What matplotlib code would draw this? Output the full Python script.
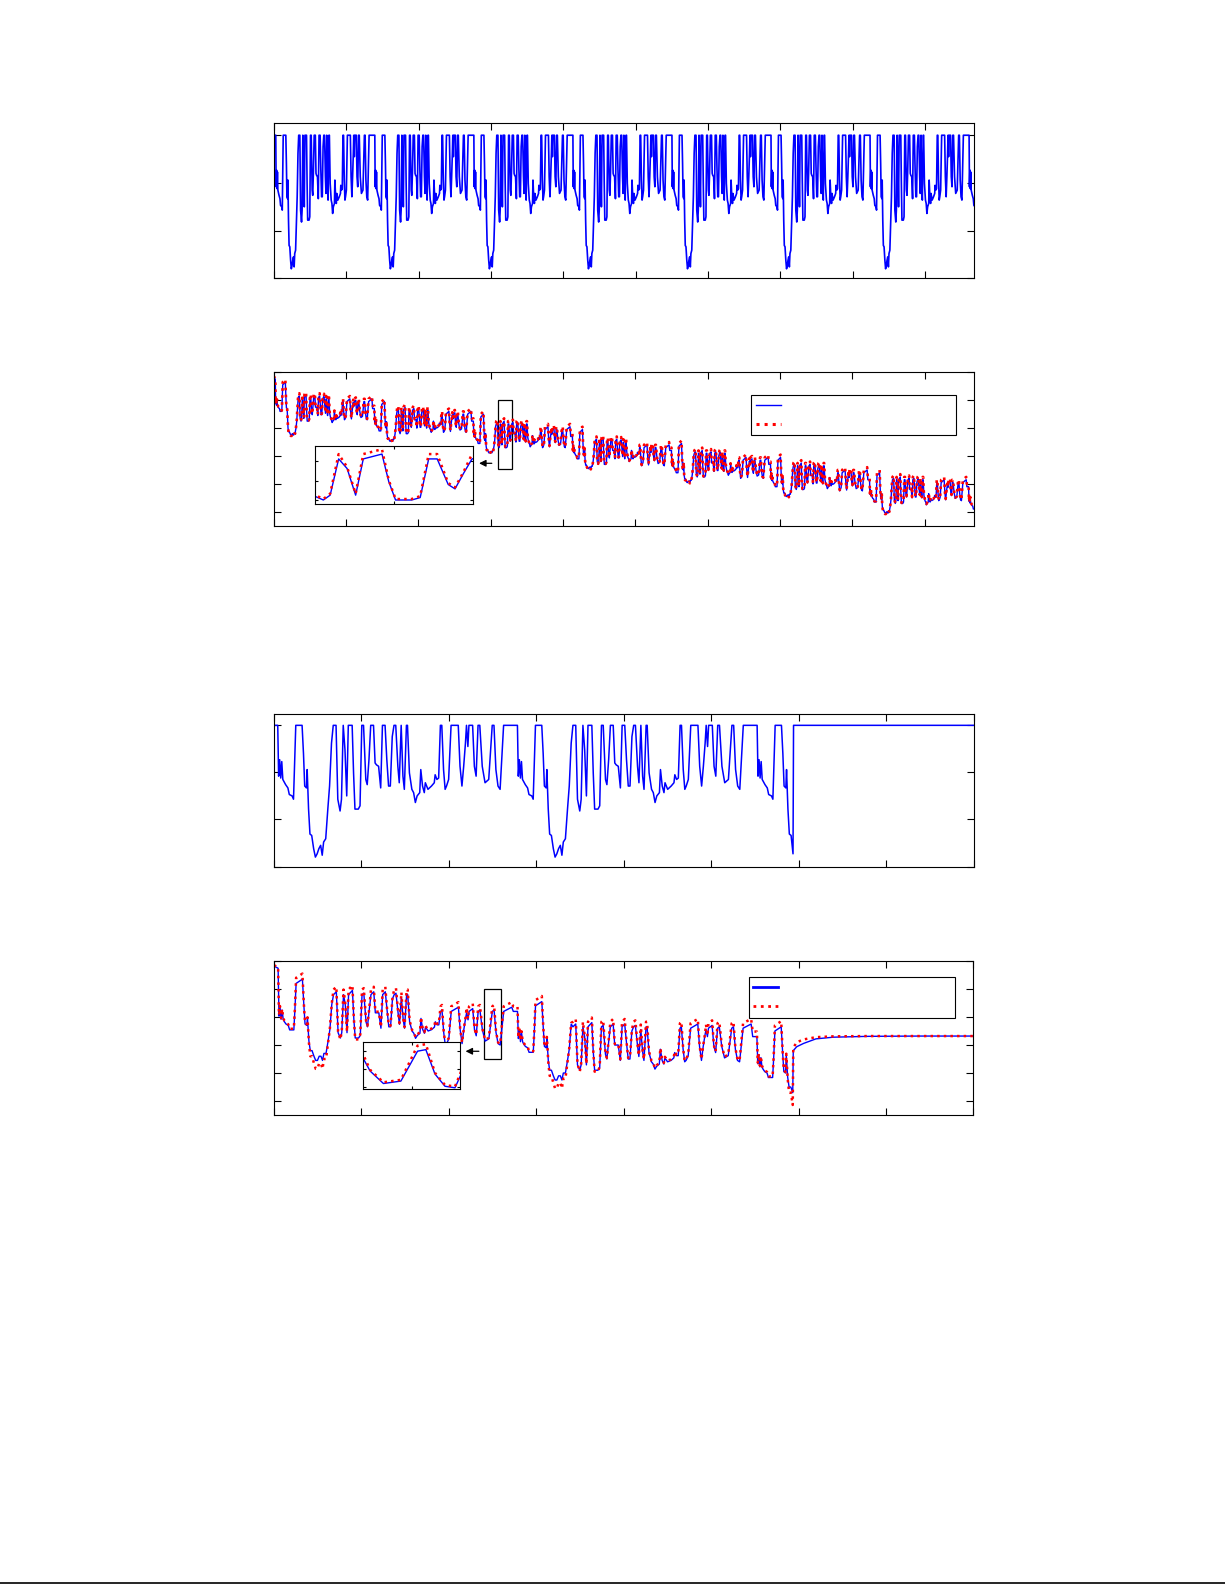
import numpy as np
import matplotlib
matplotlib.use('Agg')
import matplotlib.pyplot as plt
from matplotlib.lines import Line2D
from matplotlib.patches import Rectangle

CYCLE = 1369  # one UDDS cycle, s

udds_t = [0, 24, 29, 35, 41, 47, 53, 59, 69, 82,
          90, 106, 114, 120, 127, 163, 171, 178, 188, 192,
          200, 208, 218, 229, 239, 249, 259, 269, 278, 286,
          298, 310, 320, 331, 341, 357, 367, 380, 388, 398,
          408, 418, 427, 449, 457, 465, 484, 494, 504, 514,
          527, 535, 545, 555, 571, 580, 588, 600, 612, 622,
          637, 647, 657, 667, 678, 688, 698, 710, 718, 729,
          739, 747, 759, 765, 776, 790, 800, 810, 820, 835,
          841, 851, 861, 867, 882, 902, 918, 923, 933, 943,
          953, 961, 971, 980, 988, 1000, 1014, 1055, 1065, 1076,
          1086, 1096, 1102, 1110, 1116, 1137, 1147, 1157, 1168, 1178,
          1192, 1208, 1229, 1249, 1259, 1270, 1282, 1294, 1314, 1360]
udds_i = [0, 0, -1.08, -0.73, -1.12, -0.77, -1.15, -1.19, -1.26, -1.33,
          -1.47, -1.50, -1.57, -0.87, 0, 0, -0.60, -1.29, -1.33, -0.94,
          -1.78, -2.31, -2.34, -2.62, -2.80, -2.73, -2.62, -2.55, -2.76, -2.48,
          -2.41, -1.78, -1.29, -0.38, 0, 0, -1.57, -1.82, -1.57, 0,
          -0.52, -1.50, 0, 0, -1.01, -1.78, -1.78, -1.71, 0, 0,
          -1.15, -1.26, -0.73, 0, 0, -0.80, -0.84, -0.87, -1.33, 0,
          0, -0.73, -1.29, -1.29, -0.24, 0, 0, -0.87, -1.22, 0,
          -1.08, -1.36, 0, 0, -1.01, -1.36, -1.43, -1.64, -1.50, -1.43,
          -0.94, -1.29, -1.43, -1.22, -1.36, -1.29, -1.22, -1.05, -1.15, -1.12,
          0, 0, -0.94, -1.36, -1.29, -1.15, 0, 0, -0.87, -1.29,
          -0.87, -0.38, 0, -0.45, 0, 0, -0.87, -1.08, 0, 0,
          -0.87, -1.22, -1.15, 0, 0, -0.94, -1.29, -1.36, 0, 0]

# voltage swing around the running level, panel 2 (measured / model)
v2_dev_meas = [0.07, 0.07, 0.018, 0.035, 0.012, 0.03, 0.012, 0.008, 0.003, 0.0,
               -0.01, -0.01, -0.01, 0.03, 0.085, 0.095, 0.04, 0.003, 0.0, 0.025,
               -0.02, -0.033, -0.033, -0.04, -0.045, -0.045, -0.04, -0.04, -0.045, -0.037,
               -0.037, -0.02, 0.003, 0.05, 0.065, 0.07, -0.01, -0.02, -0.01, 0.065,
               0.045, -0.01, 0.065, 0.075, 0.018, -0.02, -0.02, -0.015, 0.065, 0.065,
               0.012, 0.003, 0.035, 0.065, 0.07, 0.03, 0.03, 0.03, 0.0, 0.065,
               0.07, 0.035, 0.003, 0.003, 0.055, 0.065, 0.068, 0.03, 0.008, 0.06,
               0.018, 0.0, 0.065, 0.065, 0.018, 0.0, -0.005, -0.015, -0.01, -0.005,
               0.025, 0.003, -0.005, 0.008, 0.0, 0.003, 0.008, 0.018, 0.012, 0.012,
               0.065, 0.065, 0.025, 0.0, 0.003, 0.012, 0.065, 0.075, 0.03, 0.003,
               0.03, 0.05, 0.062, 0.048, 0.065, 0.07, 0.03, 0.018, 0.065, 0.065,
               0.03, 0.008, 0.012, 0.065, 0.065, 0.025, 0.003, 0.0, 0.065, 0.075]
v2_dev_model = [0.08, 0.08, 0.021, 0.038, 0.015, 0.033, 0.015, 0.011, 0.006, 0.003,
                -0.007, -0.007, -0.007, 0.033, 0.095, 0.105, 0.043, 0.006, 0.003, 0.028,
                -0.018, -0.035, -0.035, -0.043, -0.048, -0.048, -0.043, -0.043, -0.048, -0.04,
                -0.04, -0.018, 0.006, 0.053, 0.075, 0.08, -0.007, -0.018, -0.007, 0.075,
                0.048, -0.007, 0.075, 0.085, 0.021, -0.018, -0.018, -0.012, 0.075, 0.075,
                0.015, 0.006, 0.038, 0.075, 0.08, 0.033, 0.033, 0.033, 0.003, 0.075,
                0.08, 0.038, 0.006, 0.006, 0.058, 0.075, 0.078, 0.033, 0.011, 0.07,
                0.021, 0.003, 0.075, 0.075, 0.021, 0.003, -0.002, -0.012, -0.007, -0.002,
                0.028, 0.006, -0.002, 0.011, 0.003, 0.006, 0.011, 0.021, 0.015, 0.015,
                0.075, 0.075, 0.028, 0.003, 0.006, 0.015, 0.075, 0.085, 0.033, 0.006,
                0.033, 0.053, 0.072, 0.051, 0.075, 0.08, 0.033, 0.021, 0.075, 0.075,
                0.033, 0.011, 0.015, 0.075, 0.075, 0.028, 0.006, 0.003, 0.075, 0.085]

# same for panel 4
v4_dev_meas = [0.13, 0.13, 0.033, 0.065, 0.022, 0.055, 0.022, 0.014, 0.005, 0.0,
               -0.016, -0.016, -0.016, 0.055, 0.15, 0.165, 0.075, 0.005, 0.0, 0.045,
               -0.035, -0.07, -0.07, -0.09, -0.105, -0.105, -0.09, -0.09, -0.105, -0.08,
               -0.08, -0.035, 0.005, 0.095, 0.12, 0.13, -0.016, -0.035, -0.016, 0.12,
               0.085, -0.016, 0.12, 0.135, 0.033, -0.035, -0.035, -0.026, 0.12, 0.125,
               0.022, 0.005, 0.065, 0.12, 0.13, 0.055, 0.055, 0.055, 0.0, 0.12,
               0.13, 0.065, 0.005, 0.005, 0.105, 0.12, 0.125, 0.055, 0.014, 0.11,
               0.033, 0.0, 0.12, 0.12, 0.033, 0.0, -0.008, -0.026, -0.016, -0.008,
               0.045, 0.005, -0.008, 0.014, 0.0, 0.005, 0.014, 0.033, 0.022, 0.022,
               0.12, 0.125, 0.045, 0.0, 0.005, 0.022, 0.12, 0.135, 0.055, 0.005,
               0.055, 0.095, 0.115, 0.09, 0.12, 0.13, 0.055, 0.033, 0.12, 0.125,
               0.055, 0.014, 0.022, 0.12, 0.125, 0.045, 0.005, 0.0, 0.12, 0.135]
v4_dev_model = [0.148, 0.148, 0.037, 0.069, 0.026, 0.059, 0.026, 0.018, 0.009, 0.004,
                -0.012, -0.012, -0.012, 0.059, 0.17, 0.185, 0.079, 0.009, 0.004, 0.049,
                -0.04, -0.09, -0.09, -0.115, -0.135, -0.135, -0.115, -0.115, -0.135, -0.1,
                -0.1, -0.04, 0.009, 0.099, 0.138, 0.148, -0.012, -0.04, -0.012, 0.138,
                0.089, -0.012, 0.138, 0.153, 0.037, -0.04, -0.04, -0.022, 0.138, 0.143,
                0.026, 0.009, 0.069, 0.138, 0.148, 0.059, 0.059, 0.059, 0.004, 0.138,
                0.148, 0.069, 0.009, 0.009, 0.109, 0.138, 0.143, 0.059, 0.018, 0.128,
                0.037, 0.004, 0.138, 0.138, 0.037, 0.004, -0.004, -0.022, -0.012, -0.004,
                0.049, 0.009, -0.004, 0.018, 0.004, 0.009, 0.018, 0.037, 0.026, 0.026,
                0.138, 0.143, 0.049, 0.004, 0.009, 0.026, 0.138, 0.153, 0.059, 0.009,
                0.059, 0.099, 0.133, 0.094, 0.138, 0.148, 0.059, 0.037, 0.138, 0.143,
                0.059, 0.018, 0.026, 0.138, 0.143, 0.049, 0.009, 0.004, 0.138, 0.153]

# cycle phases: start, big hill, first stop-go, quiet cruise, second stop-go
seg_edges = [190, 341, 770, 950]

# running voltage level for each cycle and phase
v2_pre = [3.87, 3.80, 3.755, 3.70, 3.65, 3.60, 3.545, 3.52]
v2_dip = [3.82, 3.798, 3.756, 3.70, 3.65, 3.60, 3.54, 3.52]
v2_comb_a = [3.845, 3.80, 3.75, 3.69, 3.645, 3.60, 3.55, 3.52]
v2_quiet = [3.835, 3.80, 3.748, 3.695, 3.646, 3.598, 3.54, 3.52]
v2_comb_b = [3.83, 3.785, 3.73, 3.665, 3.62, 3.575, 3.54, 3.52]
v2_rest_meas = [3.985, 3.975]
v2_rest_model = [3.987, 3.978]

v4_pre = [3.77, 3.69, 3.60]
v4_dip = [3.75, 3.68, 3.62]
v4_comb_a = [3.76, 3.645, 3.60]
v4_quiet = [3.75, 3.64, 3.60]
v4_comb_b = [3.70, 3.64, 3.60]
v4_rest_meas = [3.982, 3.974]
v4_rest_model = [3.985, 3.978]

# cut-off at the end of the short test
cut_t = [2967, 2970, 4000]
cut_i = [-2.73, 0.0, 0.0]
tail_t = [2967, 2970, 2990, 3030, 3100, 3200, 3400, 3700, 4000]
tail_meas = [3.53, 3.68, 3.694, 3.706, 3.722, 3.728, 3.731, 3.732, 3.732]
tail_model = [3.486, 3.69, 3.71, 3.72, 3.728, 3.731, 3.732, 3.732, 3.732]

ut = np.array(udds_t, dtype=float)
ui = np.array(udds_i)
seg = np.searchsorted(seg_edges, ut, side='right')


def stack(n, t_max):
    t = np.concatenate([ut + k * CYCLE for k in range(n)])
    k = np.repeat(np.arange(n), len(ut))
    j = np.tile(np.arange(len(ut)), n)
    keep = t <= t_max
    return t[keep], k[keep], j[keep]


def volt(k, j, levels, dev, rest):
    lv = np.column_stack(levels)
    v = lv[k, seg[j]] + np.array(dev)[j]
    v[:2] = rest
    return v


t1, k1, j1 = stack(8, 9700)
i1 = ui[j1]
lev2 = [v2_pre, v2_dip, v2_comb_a, v2_quiet, v2_comb_b]
v2_meas = volt(k1, j1, lev2, v2_dev_meas, v2_rest_meas)
v2_model = volt(k1, j1, lev2, v2_dev_model, v2_rest_model)

t3, k3, j3 = stack(3, 2960)
i3 = np.concatenate([ui[j3], cut_i])
t3i = np.concatenate([t3, cut_t])
lev4 = [v4_pre, v4_dip, v4_comb_a, v4_quiet, v4_comb_b]
v4_meas = np.concatenate([volt(k3, j3, lev4, v4_dev_meas, v4_rest_meas), tail_meas])
v4_model = np.concatenate([volt(k3, j3, lev4, v4_dev_model, v4_rest_model), tail_model])
t4 = np.concatenate([t3, tail_t])

BLUE = '#0000ff'
RED = '#ff0000'


def style(ax, length=5):
    ax.tick_params(direction='in', top=True, right=True, length=length, width=0.8,
                   labelbottom=False, labelleft=False)
    for s in ax.spines.values():
        s.set_linewidth(0.8)


fig = plt.figure(figsize=(12.25, 15.85), dpi=100)

# panel 1: current, long test
ax1 = fig.add_axes([0.2237, 0.8244, 0.5717, 0.0978])
ax1.plot(t1, i1, color=BLUE, lw=1.2)
ax1.set_xlim(0, 9680)
ax1.set_ylim(-3, 0.25)
ax1.set_xticks(np.arange(0, 9001, 1000))
ax1.set_yticks([-3, -2, -1, 0])
style(ax1)

# panel 2: voltage, long test
ax2 = fig.add_axes([0.2233, 0.6683, 0.5717, 0.0968])
ax2.plot(t1, v2_meas, color=BLUE, lw=1.0)
ax2.plot(t1, v2_model, color=RED, lw=1.9, ls=':')
ax2.set_xlim(0, 9680)
ax2.set_ylim(3.45, 4.0)
ax2.set_xticks(np.arange(0, 9001, 1000))
ax2.set_yticks([3.5, 3.6, 3.7, 3.8, 3.9, 4.0])
style(ax2)
h2 = [Line2D([], [], color=BLUE, lw=1.0), Line2D([], [], color=RED, lw=2.2, ls=':')]
leg = ax2.legend(h2, [' ', ' '], loc='upper left', bbox_to_anchor=(0.682, 0.852, 0.293, 0),
                 mode='expand', fontsize=9, labelspacing=0.45, borderpad=0.35,
                 handlelength=2.0, borderaxespad=0, fancybox=False, framealpha=1)
leg.get_frame().set_edgecolor('k')
leg.get_frame().set_linewidth(0.8)

ax2.add_patch(Rectangle((3100, 3.652), 194, 0.249, fill=False, ec='k', lw=0.9))
ax2.annotate('', xy=(0.2895, 0.407), xytext=(0.3156, 0.407), xycoords='axes fraction',
             arrowprops=dict(arrowstyle='-|>', color='k', lw=0.9, mutation_scale=10))
in2 = ax2.inset_axes([0.059, 0.1395, 0.2256, 0.378])
in2.plot(t1, v2_meas, color=BLUE, lw=1.0)
in2.plot(t1, v2_model, color=RED, lw=1.8, ls=':')
in2.set_xlim(3108, 3294)
in2.set_ylim(3.721, 3.841)
in2.set_xticks([3201])
in2.set_yticks([3.73, 3.77, 3.81])
style(in2, length=2.5)

# panel 3: current, short test
ax3 = fig.add_axes([0.2233, 0.4533, 0.5717, 0.0965])
ax3.plot(t3i, i3, color=BLUE, lw=1.1)
ax3.set_xlim(0, 4000)
ax3.set_ylim(-3, 0.25)
ax3.set_xticks(np.arange(0, 4001, 500))
ax3.set_yticks([-3, -2, -1, 0])
style(ax3)

# panel 4: voltage, short test
ax4 = fig.add_axes([0.2236, 0.2965, 0.5710, 0.0972])
ax4.plot(t4, v4_meas, color=BLUE, lw=1.0)
ax4.plot(t4, v4_model, color=RED, lw=1.8, ls=':')
ax4.set_xlim(0, 4000)
ax4.set_ylim(3.45, 4.0)
ax4.set_xticks(np.arange(0, 4001, 500))
ax4.set_yticks([3.5, 3.6, 3.7, 3.8, 3.9, 4.0])
style(ax4)
h4 = [Line2D([], [], color=BLUE, lw=2.0), Line2D([], [], color=RED, lw=2.0, ls=':')]
leg = ax4.legend(h4, [' ', ' '], loc='upper left', bbox_to_anchor=(0.679, 0.894, 0.295, 0),
                 mode='expand', fontsize=9, labelspacing=0.45, borderpad=0.35,
                 handlelength=2.0, borderaxespad=0, fancybox=False, framealpha=1)
leg.get_frame().set_edgecolor('k')
leg.get_frame().set_linewidth(0.8)

ax4.add_patch(Rectangle((1204, 3.65), 97, 0.249, fill=False, ec='k', lw=0.9))
ax4.annotate('', xy=(0.270, 0.414), xytext=(0.297, 0.414), xycoords='axes fraction',
             arrowprops=dict(arrowstyle='-|>', color='k', lw=0.9, mutation_scale=10))
in4 = ax4.inset_axes([0.128, 0.167, 0.138, 0.307])
in4.plot(t4, v4_meas, color=BLUE, lw=1.0)
in4.plot(t4, v4_model, color=RED, lw=1.8, ls=':')
in4.set_xlim(1184, 1300)
in4.set_ylim(3.695, 3.85)
in4.set_xticks([1242])
in4.set_yticks([3.703, 3.762, 3.821])
style(in4, length=2.5)

# page edge line at the bottom
fig.add_artist(Line2D([0, 1], [0.001, 0.001], color='k', lw=1.2, transform=fig.transFigure))

fig.savefig('out.png', dpi=100)
